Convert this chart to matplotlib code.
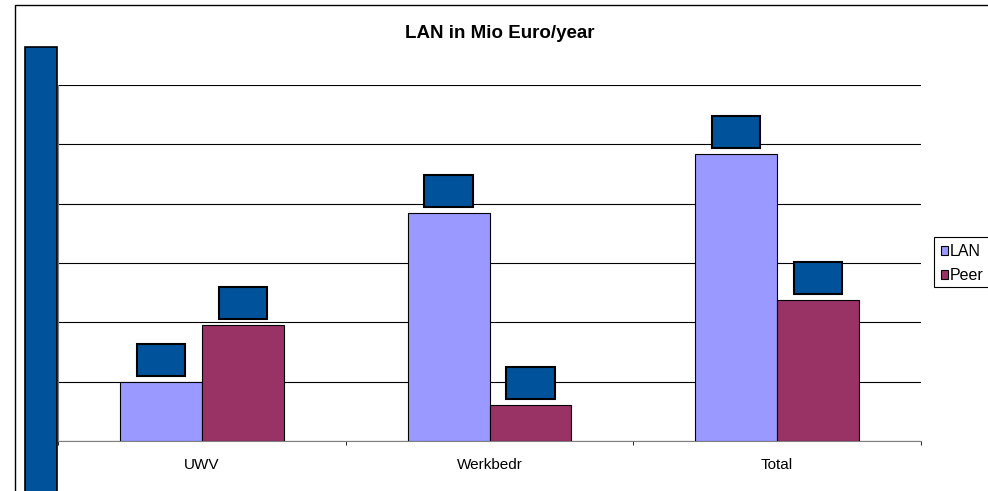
import numpy as np
import matplotlib.pyplot as plt
from matplotlib.patches import Rectangle

plt.rcParams['font.family'] = ['Liberation Sans', 'DejaVu Sans']

categories = ['UWV', 'Werkbedr', 'Total']
lan = [1.0, 3.85, 4.83]
peer = [1.95, 0.6, 2.37]
series_names = ['LAN', 'Peer']

lan_color = '#9999FF'
peer_color = '#993366'
box_color = '#00539B'

fig = plt.figure(figsize=(9.88, 4.91), dpi=100)
ax = fig.add_axes([58 / 988, 1 - 441 / 491, (921 - 58) / 988, (441 - 85) / 491])

x = np.arange(len(categories))
w = 0.285
b1 = ax.bar(x - w / 2, lan, w, color=lan_color, edgecolor='black', linewidth=0.8,
            label=series_names[0], zorder=3)
b2 = ax.bar(x + w / 2, peer, w, color=peer_color, edgecolor='black', linewidth=0.8,
            label=series_names[1], zorder=3)

# hidden data labels (blue boxes above each bar)
bw, bh, gap = 0.167, 0.54, 0.1
for xs, vals in [(x - w / 2, lan), (x + w / 2, peer)]:
    for xi, v in zip(xs, vals):
        ax.add_patch(Rectangle((xi - bw / 2, v + gap), bw, bh, facecolor=box_color,
                               edgecolor='black', linewidth=1.5, zorder=4))

ax.set_xlim(-0.5, 2.5)
ax.set_ylim(0, 6)
ax.set_yticks(np.arange(0, 7))
ax.yaxis.grid(True, color='black', linewidth=0.8, zorder=0)
ax.set_yticklabels([])
ax.tick_params(axis='y', length=0)
ax.set_xticks(x)
ax.set_xticklabels(categories, fontsize=11)
ax.tick_params(axis='x', length=0, pad=12)
ax.set_xticks([-0.5, 0.5, 1.5, 2.5], minor=True)
ax.tick_params(axis='x', which='minor', length=3, direction='out', color='black')
for s in ['top', 'right']:
    ax.spines[s].set_visible(False)
ax.spines['left'].set_color('gray')
ax.spines['bottom'].set_color('gray')

fig.text(500 / 988, 1 - 34 / 491, 'LAN in Mio Euro/year', ha='center', va='center',
         fontsize=13.5, fontweight='bold')

# outer chart border
fig.patches.append(Rectangle((15 / 988, -0.1), 1.2, 1.1 - 5 / 491, transform=fig.transFigure,
                             fill=False, edgecolor='black', linewidth=1.0))
# blue block covering the value axis
fig.patches.append(Rectangle((25 / 988, -0.1), 32 / 988, 0.1 + 1 - 47 / 491, transform=fig.transFigure,
                             facecolor=box_color, edgecolor='black', linewidth=1.2))

# legend (its box runs past the right edge of the image)
fig.patches.append(Rectangle((934 / 988, 1 - 287 / 491), 0.2, 50 / 491, transform=fig.transFigure,
                             facecolor='white', edgecolor='black', linewidth=0.8))
leg = fig.legend(handles=[b1, b2], loc='center left', bbox_to_anchor=(940.5 / 988, 1 - 263.5 / 491),
                 fontsize=11.5, frameon=False,
                 handlelength=0.5, handleheight=0.5, handletextpad=0.1, borderpad=0,
                 labelspacing=0.55, borderaxespad=0)

fig.savefig('out.png', dpi=100)
